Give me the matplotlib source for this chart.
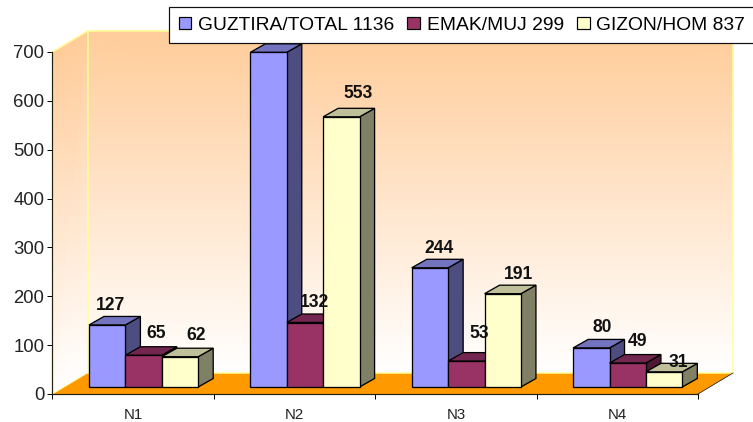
import numpy as np
import matplotlib
matplotlib.use("Agg")
import matplotlib.pyplot as plt
from matplotlib.colors import LinearSegmentedColormap
from matplotlib.patches import Patch, Polygon

categories = ["N1", "N2", "N3", "N4"]
guztira = [127, 685, 244, 80]
emak = [65, 132, 53, 49]
gizon = [62, 553, 191, 31]
legend_labels = ["GUZTIRA/TOTAL 1136", "EMAK/MUJ 299", "GIZON/HOM 837"]
y_ticks = [0, 100, 200, 300, 400, 500, 600, 700]

front_colors = ["#9999FF", "#993366", "#FFFFCC"]
top_colors = ["#7373BF", "#732650", "#BFBF99"]
side_colors = ["#4D4D80", "#4D1933", "#808066"]

W, H = 753, 422
# axis box in pixels, figure runs at dpi 72 so 1pt = 1px
LEFT, RIGHT, TOP, BOTTOM = 52.5, 698.0, 52.0, 394.0
PX_X = (RIGHT - LEFT) / 4
PX_Y = (BOTTOM - TOP) / 700

# data label nudges in px, one row per series
label_dx = [[3.5, 8, 9, 11], [13, 10, 13, 10], [16.5, 17, 16, 14]]
label_dy = [[19, 20, 19, 20], [22, 20, 28, 22], [21, 23, 19, 9]]

plt.rcParams["font.family"] = ["Liberation Sans", "DejaVu Sans"]

fig = plt.figure(figsize=(W / 72, H / 72), dpi=72)
ax = fig.add_axes([LEFT / W, 1 - BOTTOM / H, (RIGHT - LEFT) / W, (BOTTOM - TOP) / H])


def dx(px):
    return px / PX_X


def dy(px):
    return px / PX_Y


wall_cmap = LinearSegmentedColormap.from_list("wall", ["#FFFFFF", "#FFF4EC", "#FFCC99"])
wall_dx, wall_dy = dx(35), dy(21)

# back wall and side wall, same vertical fade
ax.pcolormesh(
    np.array([[wall_dx, 4 + wall_dx], [wall_dx, 4 + wall_dx]]),
    np.array([[wall_dy, wall_dy], [700 + wall_dy, 700 + wall_dy]]),
    np.array([[0, 0], [1, 1]]),
    shading="gouraud", cmap=wall_cmap, clip_on=False, zorder=1,
)
ax.pcolormesh(
    np.array([[0, wall_dx], [0, wall_dx]]),
    np.array([[0, wall_dy], [700, 700 + wall_dy]]),
    np.array([[0, 0], [1, 1]]),
    shading="gouraud", cmap=wall_cmap, clip_on=False, zorder=1,
)

# floor
ax.add_patch(Polygon([(0, 0), (wall_dx, wall_dy), (4 + wall_dx, wall_dy), (4, 0)],
                     closed=True, facecolor="#FF9900", edgecolor="none", clip_on=False, zorder=2))

# pale edges of the walls
edge = dict(color="#FFFF99", lw=1.5, clip_on=False, zorder=3)
ax.plot([0, wall_dx, 4 + wall_dx, 4 + wall_dx], [700, 700 + wall_dy, 700 + wall_dy, wall_dy], **edge)
ax.plot([wall_dx, wall_dx], [wall_dy, 700 + wall_dy], **edge)
ax.plot([wall_dx, 4 + wall_dx], [wall_dy, wall_dy], **edge)
ax.plot([0, wall_dx], [0, wall_dy], color="#FFFF99", lw=0.8, clip_on=False, zorder=3)
ax.plot([4, 4 + wall_dx], [0, wall_dy], color="#222222", lw=0.8, clip_on=False, zorder=3)

series = [guztira, emak, gizon]
bar_w = dx(36.4)
base = dy(7)
depth_x, depth_y = dx(15), dy(8.5)
group_start = dx(36.5)

z = 4
for c in range(len(categories)):
    for s, values in enumerate(series):
        x0 = c + group_start + s * bar_w
        x1 = x0 + bar_w
        top = base + values[c]
        ax.add_patch(Polygon(
            [(x1, base), (x1 + depth_x, base + depth_y), (x1 + depth_x, top + depth_y), (x1, top)],
            closed=True, facecolor=side_colors[s], edgecolor="black", lw=1.3, clip_on=False, zorder=z))
        ax.add_patch(Polygon(
            [(x0, top), (x0 + depth_x, top + depth_y), (x1 + depth_x, top + depth_y), (x1, top)],
            closed=True, facecolor=top_colors[s], edgecolor="black", lw=1.3, clip_on=False, zorder=z))
        ax.bar(x0, values[c], bottom=base, width=bar_w, align="edge", color=front_colors[s],
               edgecolor="black", linewidth=1.3, clip_on=False, zorder=z + 0.5)
        ax.annotate(str(values[c]), (x0 + bar_w / 2, top), xytext=(label_dx[s][c], label_dy[s][c]),
                    textcoords="offset points", ha="center", va="center",
                    fontsize=17.5, fontweight="bold", color="#111111", zorder=50,
                    annotation_clip=False)
        z += 1

ax.set_xlim(0, 4)
ax.set_ylim(0, 700)
ax.patch.set_visible(False)
for name in ["top", "right"]:
    ax.spines[name].set_visible(False)
for name in ["left", "bottom"]:
    ax.spines[name].set_linewidth(1.2)
    ax.spines[name].set_color("#222211")
    ax.spines[name].set_zorder(3.5)

ax.set_yticks(y_ticks)
ax.set_xticks(range(5))
ax.set_xticklabels([])
ax.set_xticks(np.arange(4) + 0.5, categories, minor=True)
ax.tick_params(axis="y", length=5, width=1, labelsize=18.5, pad=3, labelcolor="#222222")
ax.tick_params(axis="x", which="major", length=5, width=1)
ax.tick_params(axis="x", which="minor", length=0, labelsize=15, pad=14, labelcolor="#222222")

handles = [Patch(facecolor=front_colors[i], edgecolor="black", lw=1.2, label=legend_labels[i]) for i in range(3)]
leg = fig.legend(
    handles=handles, loc="upper left", bbox_to_anchor=(169 / W, 1 - 7 / H), ncol=3,
    fontsize=19.2, frameon=True, fancybox=False, framealpha=1, edgecolor="#111111",
    handlelength=0.64, handleheight=0.64, handletextpad=0.36, columnspacing=0.7,
    borderpad=0.5, borderaxespad=0,
)
leg.set_zorder(100)
leg.get_frame().set_linewidth(1.2)

fig.savefig("out.png", dpi=72)
